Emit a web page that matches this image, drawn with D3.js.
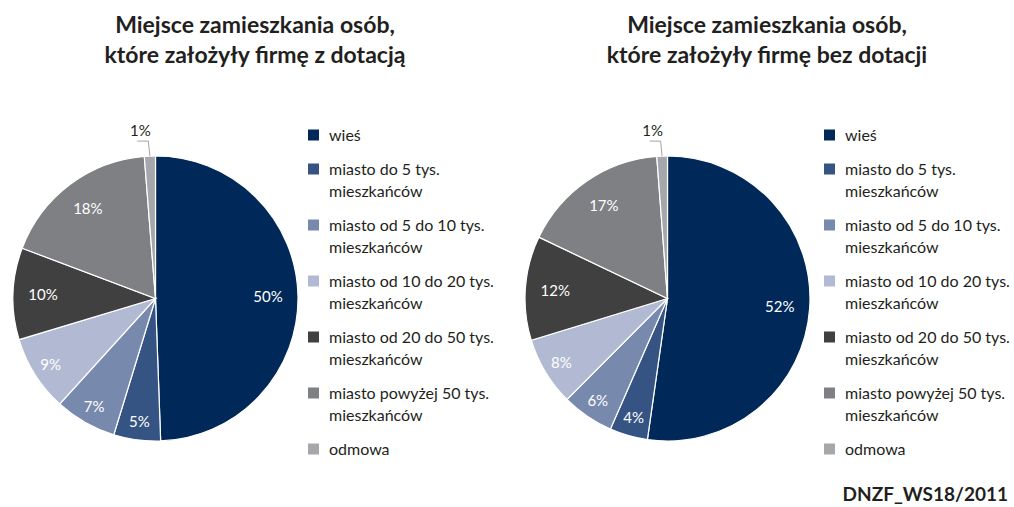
<!DOCTYPE html>
<html>
<head>
<meta charset="utf-8">
<script src="https://cdn.jsdelivr.net/npm/d3@7"></script>
<style>
  body { margin: 0; background: #fff; }
  text { font-family: Lato, "Open Sans", sans-serif; }
</style>
</head>
<body>
<svg width="1014" height="507"></svg>
<script>
// categories shared by both charts
const categories = [
  "wieś",
  "miasto do 5 tys. mieszkańców",
  "miasto od 5 do 10 tys. mieszkańców",
  "miasto od 10 do 20 tys. mieszkańców",
  "miasto od 20 do 50 tys. mieszkańców",
  "miasto powyżej 50 tys. mieszkańców",
  "odmowa"
];
const legendLines = [
  ["wieś"],
  ["miasto do 5 tys.", "mieszkańców"],
  ["miasto od 5 do 10 tys.", "mieszkańców"],
  ["miasto od 10 do 20 tys.", "mieszkańców"],
  ["miasto od 20 do 50 tys.", "mieszkańców"],
  ["miasto powyżej 50 tys.", "mieszkańców"],
  ["odmowa"]
];
const colors = ["#00295a", "#355483", "#7789ad", "#b2bad3", "#404040", "#7f8084", "#a6a7ab"];

// slice shares and printed labels
const withGrant = [49.4, 5.3, 7.0, 8.6, 10.4, 18.0, 1.25];
const withGrantLabels = ["50%", "5%", "7%", "9%", "10%", "18%", "1%"];
const noGrant = [52.2, 4.3, 5.9, 7.8, 11.8, 16.7, 1.2];
const noGrantLabels = ["52%", "4%", "6%", "8%", "12%", "17%", "1%"];

const titles = [
  ["Miejsce zamieszkania osób,", "które założyły firmę z dotacją"],
  ["Miejsce zamieszkania osób,", "które założyły firmę bez dotacji"]
];

const svg = d3.select("svg");
const R = 142.5;

const color = d3.scaleOrdinal().domain(categories).range(colors);
const pie = d3.pie().sort(null).value(d => d.v);
const arc = d3.arc().innerRadius(0).outerRadius(R);

function drawChart(ox, legendX, values, labels, title) {
  const g = svg.append("g");
  const cx = ox + 155.5, cy = 298.5;

  // title
  g.append("text")
    .attr("x", ox + 255).attr("y", 33)
    .attr("text-anchor", "middle")
    .style("font-size", "23px").style("font-weight", "bold").attr("fill", "#231f20")
    .selectAll("tspan").data(title).join("tspan")
    .attr("x", ox + 255).attr("dy", (d, i) => i ? 30 : 0)
    .text(d => d);

  const data = categories.map((c, i) => ({ c, v: values[i], label: labels[i] }));
  const arcs = pie(data);
  const pg = g.append("g").attr("transform", `translate(${cx},${cy})`);

  pg.selectAll("path").data(arcs).join("path")
    .attr("d", arc)
    .attr("fill", d => color(d.data.c))
    .attr("stroke", "#fff").attr("stroke-width", 1.2);

  const inner = arcs.filter(d => d.data.v > 2);
  pg.selectAll("text.lbl").data(inner).join("text")
    .attr("class", "lbl")
    .attr("transform", d => {
      const a = (d.startAngle + d.endAngle) / 2;
      const r = d.data.v < 10 ? R * 0.87 : R * 0.79;
      return `translate(${Math.sin(a) * r},${-Math.cos(a) * r})`;
    })
    .attr("text-anchor", "middle").attr("dy", "0.36em")
    .attr("fill", "#fff").style("font-size", "15px")
    .text(d => d.data.label);

  // small slice with leader line
  arcs.filter(d => d.data.v <= 2).forEach(d => {
    const a = (d.startAngle + d.endAngle) / 2;
    const p1 = [Math.sin(a) * R, -Math.cos(a) * R];
    const p2 = [Math.sin(a) * (R + 15) - 1, -Math.cos(a) * (R + 15)];
    pg.append("path")
      .attr("d", d3.line()([p1, p2, [p2[0] - 11, p2[1]]]))
      .attr("fill", "none").attr("stroke", "#8c8c8c").attr("stroke-width", 0.8);
    pg.append("text")
      .attr("x", p2[0] - 8).attr("y", p2[1] - 5)
      .attr("text-anchor", "middle")
      .attr("fill", "#231f20").style("font-size", "15px")
      .text(d.data.label);
  });

  // legend
  const lg = g.append("g").attr("transform", `translate(${legendX},0)`);
  let y = 135;
  legendLines.forEach((lines, i) => {
    const it = lg.append("g").attr("transform", `translate(0,${y})`);
    it.append("rect").attr("x", 0).attr("y", -5.5).attr("width", 11).attr("height", 11)
      .attr("fill", colors[i]);
    it.append("text").attr("x", 21).attr("y", 0)
      .attr("fill", "#231f20").style("font-size", "16px")
      .selectAll("tspan").data(lines).join("tspan")
      .attr("x", 21).attr("dy", (d, j) => j ? 22 : "0.35em")
      .text(d => d);
    y += lines.length * 22 + 12;
  });
}

drawChart(0, 308, withGrant, withGrantLabels, titles[0]);
drawChart(512, 824, noGrant, noGrantLabels, titles[1]);

svg.append("text")
  .attr("x", 1008).attr("y", 501)
  .attr("text-anchor", "end")
  .style("font-size", "19px").style("font-weight", "bold").attr("fill", "#231f20")
  .text("DNZF_WS18/2011");
</script>
</body>
</html>
